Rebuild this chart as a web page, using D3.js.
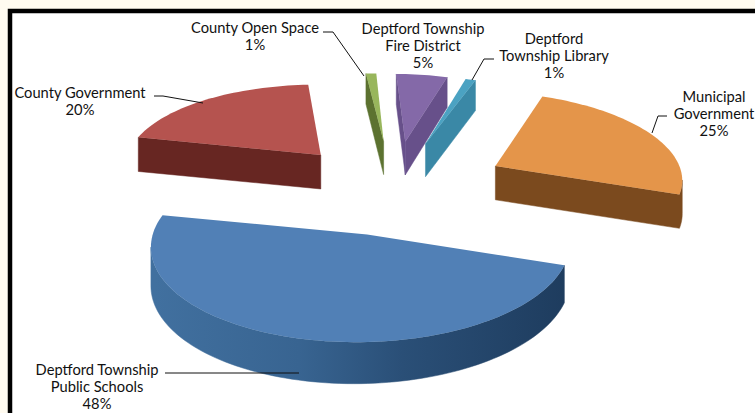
<!DOCTYPE html>
<html>
<head>
<meta charset="utf-8">
<script src="https://cdn.jsdelivr.net/npm/d3@7"></script>
<style>
html, body { margin: 0; padding: 0; background: #fffbf0; }
svg { display: block; }
text { font-family: Lato, "Open Sans", sans-serif; font-size: 14.7px; fill: #111; text-anchor: middle; }
</style>
</head>
<body>
<div id="mainDiv"></div>
<script>
'use strict';

var categories = ['Deptford Township Public Schools', 'County Government', 'County Open Space',
                  'Deptford Township Fire District', 'Deptford Township Library', 'Municipal Government'];
var shares = [48, 20, 1, 5, 1, 25];
var labelLines = [
    ['Deptford Township', 'Public Schools'],
    ['County Government'],
    ['County Open Space'],
    ['Deptford Township', 'Fire District'],
    ['Deptford', 'Township Library'],
    ['Municipal', 'Government']
];

var myApp = {};

// styling per slice, same order as the data
myApp.topColors  = ['#5180b6', '#b5534f', '#98b65c', '#8469a8', '#4ba2c2', '#e4954a'];
myApp.wallColors = ['url(#blueWall)', '#672622', '#5c7230', '#67508a', '#3a88a6', '#7b4a1e'];
myApp.labelPos = [[97, 374.5], [80, 98], [255, 33], [423, 33.5], [554, 43.5], [714, 101.5]];
myApp.leaders = [
    [[165, 373], [299, 373]],
    [[154, 96], [163, 96], [203, 103]],
    [[323, 32], [333, 32], [364, 76]],
    null,
    [[494, 59], [484, 59], [472, 80]],
    [[667, 116], [658, 116], [652, 133]]
];

// tilted ground plane: unit pie circle -> screen
myApp.plane = {cx: 397, cy: 184, ux: 184, uy: 23, vx: 50, vy: -80, k: 0.105, explode: 0.58, depth: 35, depthK: 0.1};
myApp.startAngle = 93.6 * Math.PI / 180;
// the exploded slices do not sit on one exact plane in the picture
myApp.nudge  = [[1, 1], [-4, 6], [-5, 3], [-3, 3], [-2, 3], [3, 2]];
myApp.radius = [1.02, 1, 1, 1, 1, 1.05];

myApp.project = function(X, Y, nudge)
{
    var p = myApp.plane;
    var w = 1 + p.k * Y;
    return {
        x: p.cx + nudge[0] + (X * p.ux + Y * p.vx) / w,
        y: p.cy + nudge[1] + (X * p.uy + Y * p.vy) / w,
        h: p.depth / (1 + p.depthK * Y)
    };
}

myApp.slicePoints = function(d, i)
{
    var mid = (d.startAngle + d.endAngle) / 2;
    var ox = myApp.plane.explode * Math.sin(mid);
    var oy = myApp.plane.explode * Math.cos(mid);
    var r = myApp.radius[i];
    var pts = [myApp.project(ox, oy, myApp.nudge[i])];
    var n = Math.max(2, Math.ceil((d.endAngle - d.startAngle) / 0.03));

    for(var j=0; j<=n; j++)
    {
        var a = d.startAngle + (d.endAngle - d.startAngle) * j / n;
        pts.push(myApp.project(ox + r * Math.sin(a), oy + r * Math.cos(a), myApp.nudge[i]));
    }

    return pts;
}

// walls show where the clockwise outline runs right to left
myApp.wallRuns = function(pts)
{
    var runs = [], run = null;
    var closed = pts.concat([pts[0]]);

    for(var i=0; i<closed.length-1; i++)
    {
        if(closed[i+1].x < closed[i].x)
        {
            if(!run) { run = [closed[i]]; runs.push(run); }
            run.push(closed[i+1]);
        }
        else
        {
            run = null;
        }
    }

    return runs;
}

myApp.run = function() {

    var svg = d3.select('#mainDiv').append('svg').attr('width', 755).attr('height', 413);

    var grad = svg.append('defs').append('linearGradient')
        .attr('id', 'blueWall').attr('gradientUnits', 'userSpaceOnUse')
        .attr('x1', 155).attr('x2', 567).attr('y1', 0).attr('y2', 0);
    grad.append('stop').attr('offset', '0%').attr('stop-color', '#41709f');
    grad.append('stop').attr('offset', '35%').attr('stop-color', '#386491');
    grad.append('stop').attr('offset', '60%').attr('stop-color', '#2a4f77');
    grad.append('stop').attr('offset', '100%').attr('stop-color', '#1e3c5e');

    // frame
    svg.append('rect').attr('x', 10).attr('y', 11).attr('width', 760).attr('height', 420)
        .attr('fill', '#fff').attr('stroke', '#000').attr('stroke-width', 4.5);

    var pie = d3.pie().sort(null).value(function(d){ return d; })
        .startAngle(myApp.startAngle).endAngle(myApp.startAngle + 2 * Math.PI);
    var arcs = pie(shares);

    var line = d3.line().x(function(d){ return d.x; }).y(function(d){ return d.y; });

    // far slices first
    var order = [2, 3, 4, 1, 5, 0];

    var slices = svg.append('g').selectAll('g')
        .data(order)
        .enter().append('g')
        .attr('class', function(i){ return 'slice-' + i; });

    slices.each(function(i) {
        var g = d3.select(this);
        var pts = myApp.slicePoints(arcs[i], i);

        myApp.wallRuns(pts).forEach(function(run) {
            var lower = run.slice().reverse().map(function(p){ return {x: p.x, y: p.y + p.h}; });
            g.append('path')
                .attr('d', line(run.concat(lower)) + 'Z')
                .attr('fill', myApp.wallColors[i])
                .attr('stroke', myApp.wallColors[i])
                .attr('stroke-width', 0.5);
        });

        g.append('path')
            .attr('d', line(pts) + 'Z')
            .attr('fill', myApp.topColors[i]);
    });

    // leader lines
    svg.append('g').selectAll('path')
        .data(myApp.leaders.filter(function(d){ return d; }))
        .enter().append('path')
        .attr('d', d3.line())
        .attr('fill', 'none')
        .attr('stroke', '#111')
        .attr('stroke-width', 1);

    // labels
    var labels = svg.append('g').selectAll('text')
        .data(categories)
        .enter().append('text')
        .attr('data-category', function(d){ return d; })
        .attr('transform', function(d, i){ return 'translate(' + myApp.labelPos[i] + ')'; });

    labels.each(function(d, i) {
        var rows = labelLines[i].concat([shares[i] + '%']);
        d3.select(this).selectAll('tspan')
            .data(rows)
            .enter().append('tspan')
            .attr('x', 0)
            .attr('dy', function(r, j){ return j ? 17.3 : 0; })
            .text(function(r){ return r; });
    });
}

myApp.run();
</script>
</body>
</html>
